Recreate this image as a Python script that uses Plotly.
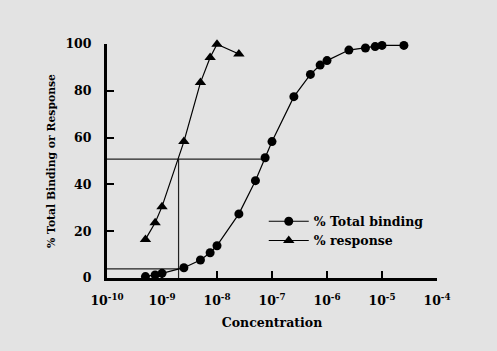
import plotly.graph_objects as go

# Data
binding_conc = [5e-10, 7.5e-10, 1e-9, 2.5e-9, 5e-9, 7.5e-9, 1e-8, 2.5e-8, 5e-8, 7.5e-8,
                1e-7, 2.5e-7, 5e-7, 7.5e-7, 1e-6, 2.5e-6, 5e-6, 7.5e-6, 1e-5, 2.5e-5]
binding_pct = [0.6, 1.3, 2.0, 4.4, 7.7, 10.8, 13.8, 27.4, 41.6, 51.4,
               58.3, 77.5, 87.0, 91.0, 92.9, 97.4, 98.3, 98.9, 99.4, 99.4]

response_conc = [5e-10, 7.5e-10, 1e-9, 2.5e-9, 5e-9, 7.5e-9, 1e-8, 2.5e-8]
response_pct = [16.5, 23.6, 30.5, 58.3, 83.5, 94.2, 99.9, 95.7]

# Guide lines (EC50 / IC read-offs)
guide_h50_x = [1e-10, 7.5e-8]
guide_h50_y = [50.8, 50.8]
guide_v_x = [2e-9, 2e-9]
guide_v_y = [50.8, 0]
guide_h4_x = [1e-10, 2e-9]
guide_h4_y = [3.9, 3.9]

x_tickvals = [1e-10, 1e-9, 1e-8, 1e-7, 1e-6, 1e-5, 1e-4]
x_ticktext = ["10<sup>-10</sup>", "10<sup>-9</sup>", "10<sup>-8</sup>", "10<sup>-7</sup>",
              "10<sup>-6</sup>", "10<sup>-5</sup>", "10<sup>-4</sup>"]
y_tickvals = [0, 20, 40, 60, 80, 100]

FONT = "DejaVu Serif"
BG = "#e3e3e3"

fig = go.Figure()

for gx, gy in [(guide_h50_x, guide_h50_y), (guide_v_x, guide_v_y), (guide_h4_x, guide_h4_y)]:
    fig.add_trace(go.Scatter(x=gx, y=gy, mode="lines", line=dict(color="#222222", width=1.2),
                             showlegend=False, hoverinfo="skip", cliponaxis=False))

fig.add_trace(go.Scatter(x=binding_conc, y=binding_pct, mode="lines+markers",
                         name="<b>% Total binding</b>",
                         line=dict(color="black", width=1.2),
                         marker=dict(symbol="circle", size=9, color="black"),
                         cliponaxis=False))
fig.add_trace(go.Scatter(x=response_conc, y=response_pct, mode="lines+markers",
                         name="<b>% response</b>",
                         line=dict(color="black", width=1.2),
                         marker=dict(symbol="triangle-up", size=10, color="black"),
                         cliponaxis=False))

fig.update_layout(
    width=497, height=351,
    margin=dict(l=107, r=60, t=44, b=73),
    paper_bgcolor=BG, plot_bgcolor=BG,
    font=dict(family=FONT, size=12, color="black"),
    showlegend=True,
    legend=dict(x=0.475, y=0.305, xanchor="left", yanchor="top",
                bgcolor="rgba(0,0,0,0)", font=dict(family=FONT, size=12.5, color="black"),
                tracegroupgap=0, itemwidth=40),
    xaxis=dict(type="log", range=[-10, -4], tickvals=x_tickvals, ticktext=x_ticktext,
               showgrid=False, zeroline=False, showline=True, linecolor="black", linewidth=3,
               ticks="inside", ticklen=7, tickwidth=2, tickcolor="black",
               tickfont=dict(family=FONT, size=12.5, weight="bold"), ticklabelstandoff=9,
               title=dict(text="<b>Concentration</b>", font=dict(family=FONT, size=12.5), standoff=12)),
    yaxis=dict(range=[0, 100], tickvals=y_tickvals,
               showgrid=False, zeroline=False, showline=True, linecolor="black", linewidth=3,
               ticks="inside", ticklen=7, tickwidth=2, tickcolor="black",
               tickfont=dict(family=FONT, size=12.5, weight="bold"), ticklabelstandoff=10,
               title=dict(text="<b>% Total Binding or Response</b>", font=dict(family=FONT, size=10.8), standoff=8)),
)

fig.write_html("out.html")
